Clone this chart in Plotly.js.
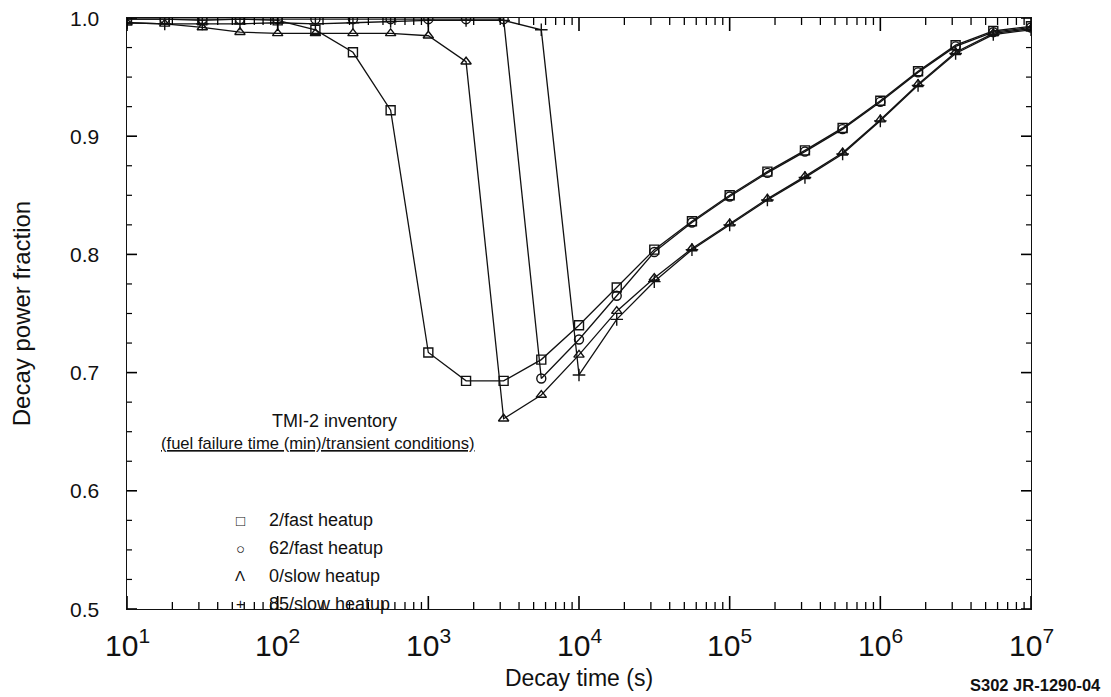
<!DOCTYPE html>
<html>
<head>
<meta charset="utf-8">
<script src="https://cdn.plot.ly/plotly-3.0.1.min.js"></script>
<style>html,body{margin:0;padding:0;background:#fff;}#chart{width:1111px;height:697px;}</style>
</head>
<body>
<div id="chart"></div>
<script>
// Decay time (s)
var decayTime = [10, 17.8, 31.6, 56.2, 100, 178, 316, 562, 1000, 1780, 3160, 5620, 10000, 17800, 31600, 56200, 100000, 178000, 316000, 562000, 1000000, 1780000, 3160000, 5620000, 10000000];
// 2/fast heatup
var fast2 = [0.999, 0.999, 0.998, 0.999, 0.998, 0.990, 0.971, 0.922, 0.717, 0.693, 0.693, 0.711, 0.740, 0.772, 0.804, 0.828, 0.850, 0.870, 0.888, 0.907, 0.930, 0.955, 0.977, 0.989, 0.993];
// 62/fast heatup
var fast62 = [0.999, 0.999, 0.999, 0.999, 0.999, 0.999, 0.999, 0.999, 0.999, 0.999, 0.999, 0.695, 0.728, 0.765, 0.802, 0.827, 0.849, 0.869, 0.887, 0.906, 0.929, 0.954, 0.976, 0.988, 0.992];
// 0/slow heatup
var slow0 = [0.996, 0.995, 0.992, 0.988, 0.987, 0.987, 0.987, 0.987, 0.985, 0.963, 0.661, 0.681, 0.715, 0.752, 0.780, 0.805, 0.826, 0.847, 0.866, 0.886, 0.914, 0.944, 0.971, 0.987, 0.991];
// 85/slow heatup
var slow85 = [0.996, 0.995, 0.995, 0.995, 0.996, 0.995, 0.996, 0.997, 0.998, 0.998, 0.998, 0.990, 0.698, 0.745, 0.777, 0.804, 0.825, 0.846, 0.865, 0.885, 0.913, 0.943, 0.970, 0.986, 0.990];

var xTickVals = [10, 100, 1000, 10000, 100000, 1000000, 10000000];
var xTickText = ["10<sup>1</sup>", "10<sup>2</sup>", "10<sup>3</sup>", "10<sup>4</sup>", "10<sup>5</sup>", "10<sup>6</sup>", "10<sup>7</sup>"];
var yTickVals = [0.5, 0.6, 0.7, 0.8, 0.9, 1.0];
var yTickText = ["0.5", "0.6", "0.7", "0.8", "0.9", "1.0"];
var legendSymbols = ["\u25A1", "\u25CB", "\u039B", "+"];
var legendLabels = ["2/fast heatup", "62/fast heatup", "0/slow heatup", "85/slow heatup"];

// minor tick positions (2..9 within each decade; 0.025 steps on y)
var xMinor = [];
for (var d = 1; d < 7; d++) { for (var m = 2; m <= 9; m++) { xMinor.push(m * Math.pow(10, d)); } }
var yMinor = [];
for (var k = 0; k <= 20; k++) { if (k % 4 !== 0) { yMinor.push(0.5 + k * 0.025); } }

var FONT = "Liberation Sans, Arial, sans-serif";
var PLOT_W = 904, PLOT_H = 591;
function tr(y, sym, name) {
  return {
    x: decayTime, y: y, type: 'scatter', mode: 'lines+markers', name: name,
    line: {color: '#111', width: 1.3},
    marker: {symbol: sym, size: 9, color: '#111', line: {color: '#111', width: 1.4}},
    showlegend: false
  };
}
var data = [
  tr(fast2, 'square-open', '2/fast heatup'),
  tr(fast62, 'circle-open', '62/fast heatup'),
  tr(slow0, 'triangle-up-open', '0/slow heatup'),
  tr(slow85, 'cross-thin-open', '85/slow heatup')
];

// tick marks drawn as short shapes on all four sides (inside)
var shapes = [];
function xTick(v, len, w) {
  var f = len / PLOT_H;
  shapes.push({type: 'line', xref: 'x', yref: 'paper', x0: v, x1: v, y0: 0, y1: f, line: {color: '#000', width: w}});
  shapes.push({type: 'line', xref: 'x', yref: 'paper', x0: v, x1: v, y0: 1, y1: 1 - f, line: {color: '#000', width: w}});
}
function yTick(v, len, w) {
  var f = len / PLOT_W;
  shapes.push({type: 'line', xref: 'paper', yref: 'y', x0: 0, x1: f, y0: v, y1: v, line: {color: '#000', width: w}});
  shapes.push({type: 'line', xref: 'paper', yref: 'y', x0: 1, x1: 1 - f, y0: v, y1: v, line: {color: '#000', width: w}});
}
xMinor.forEach(function (v) { xTick(v, 7, 1.3); });
xTickVals.forEach(function (v) { xTick(v, 13, 1.6); });
yMinor.forEach(function (v) { yTick(v, 5, 1.2); });
yTickVals.forEach(function (v) { yTick(v, 10, 1.6); });

var annotations = [
  {xref: 'paper', yref: 'paper', x: 0.158, y: 0.318, xanchor: 'left', yanchor: 'middle', showarrow: false,
   text: 'TMI-2 inventory', font: {family: FONT, size: 18, color: '#111'}},
  {xref: 'paper', yref: 'paper', x: 0.035, y: 0.28, xanchor: 'left', yanchor: 'middle', showarrow: false,
   text: '<u>(fuel failure time (min)/transient conditions)</u>', font: {family: FONT, size: 16.6, color: '#111'}},
  {xref: 'paper', yref: 'paper', x: 1.0795, y: -0.128, xanchor: 'right', yanchor: 'middle', showarrow: false,
   text: '<b>S302 JR-1290-04</b>', font: {family: FONT, size: 16.5, color: '#111'}}
];
for (var i = 0; i < legendLabels.length; i++) {
  var yy = 0.15 - i * 0.047;
  annotations.push({xref: 'paper', yref: 'paper', x: 0.125, y: yy, xanchor: 'center', yanchor: 'middle', showarrow: false,
    text: legendSymbols[i], font: {family: FONT, size: 15, color: '#111'}});
  annotations.push({xref: 'paper', yref: 'paper', x: 0.155, y: yy, xanchor: 'left', yanchor: 'middle', showarrow: false,
    text: legendLabels[i], font: {family: FONT, size: 18, color: '#111'}});
}
// x tick labels (annotation x on a log axis is given as log10)
for (var j = 0; j < xTickVals.length; j++) {
  annotations.push({xref: 'x', yref: 'paper', x: Math.log10(xTickVals[j]), y: 0, xanchor: 'center', yanchor: 'middle',
    yshift: -34, showarrow: false, text: xTickText[j], font: {family: FONT, size: 30, color: '#111'}});
}
// y tick labels
for (var n = 0; n < yTickVals.length; n++) {
  annotations.push({xref: 'paper', yref: 'y', x: 0, y: yTickVals[n], xanchor: 'right', yanchor: 'middle',
    xshift: -26, showarrow: false, text: yTickText[n], font: {family: FONT, size: 21, color: '#111'}});
}

var layout = {
  width: 1111, height: 697,
  margin: {l: 127, r: 80, t: 18, b: 88},
  paper_bgcolor: '#fff', plot_bgcolor: '#fff',
  font: {family: FONT, color: '#111'},
  xaxis: {
    type: 'log', range: [1, 7],
    tickmode: 'array', tickvals: xTickVals, showticklabels: false, ticks: '',
    showline: true, linecolor: '#111', linewidth: 1.2, mirror: true,
    showgrid: false, zeroline: false,
    title: {text: 'Decay time (s)', font: {family: FONT, size: 23, color: '#111'}, standoff: 60}
  },
  yaxis: {
    range: [0.5, 1.0], tickmode: 'array', tickvals: yTickVals, showticklabels: false, ticks: '',
    showline: true, linecolor: '#111', linewidth: 1.2, mirror: true,
    showgrid: false, zeroline: false,
    title: {text: 'Decay power fraction', font: {family: FONT, size: 24, color: '#111'}, standoff: 88}
  },
  shapes: shapes,
  annotations: annotations,
  showlegend: false
};
Plotly.newPlot('chart', data, layout, {staticPlot: true});
</script>
</body>
</html>
